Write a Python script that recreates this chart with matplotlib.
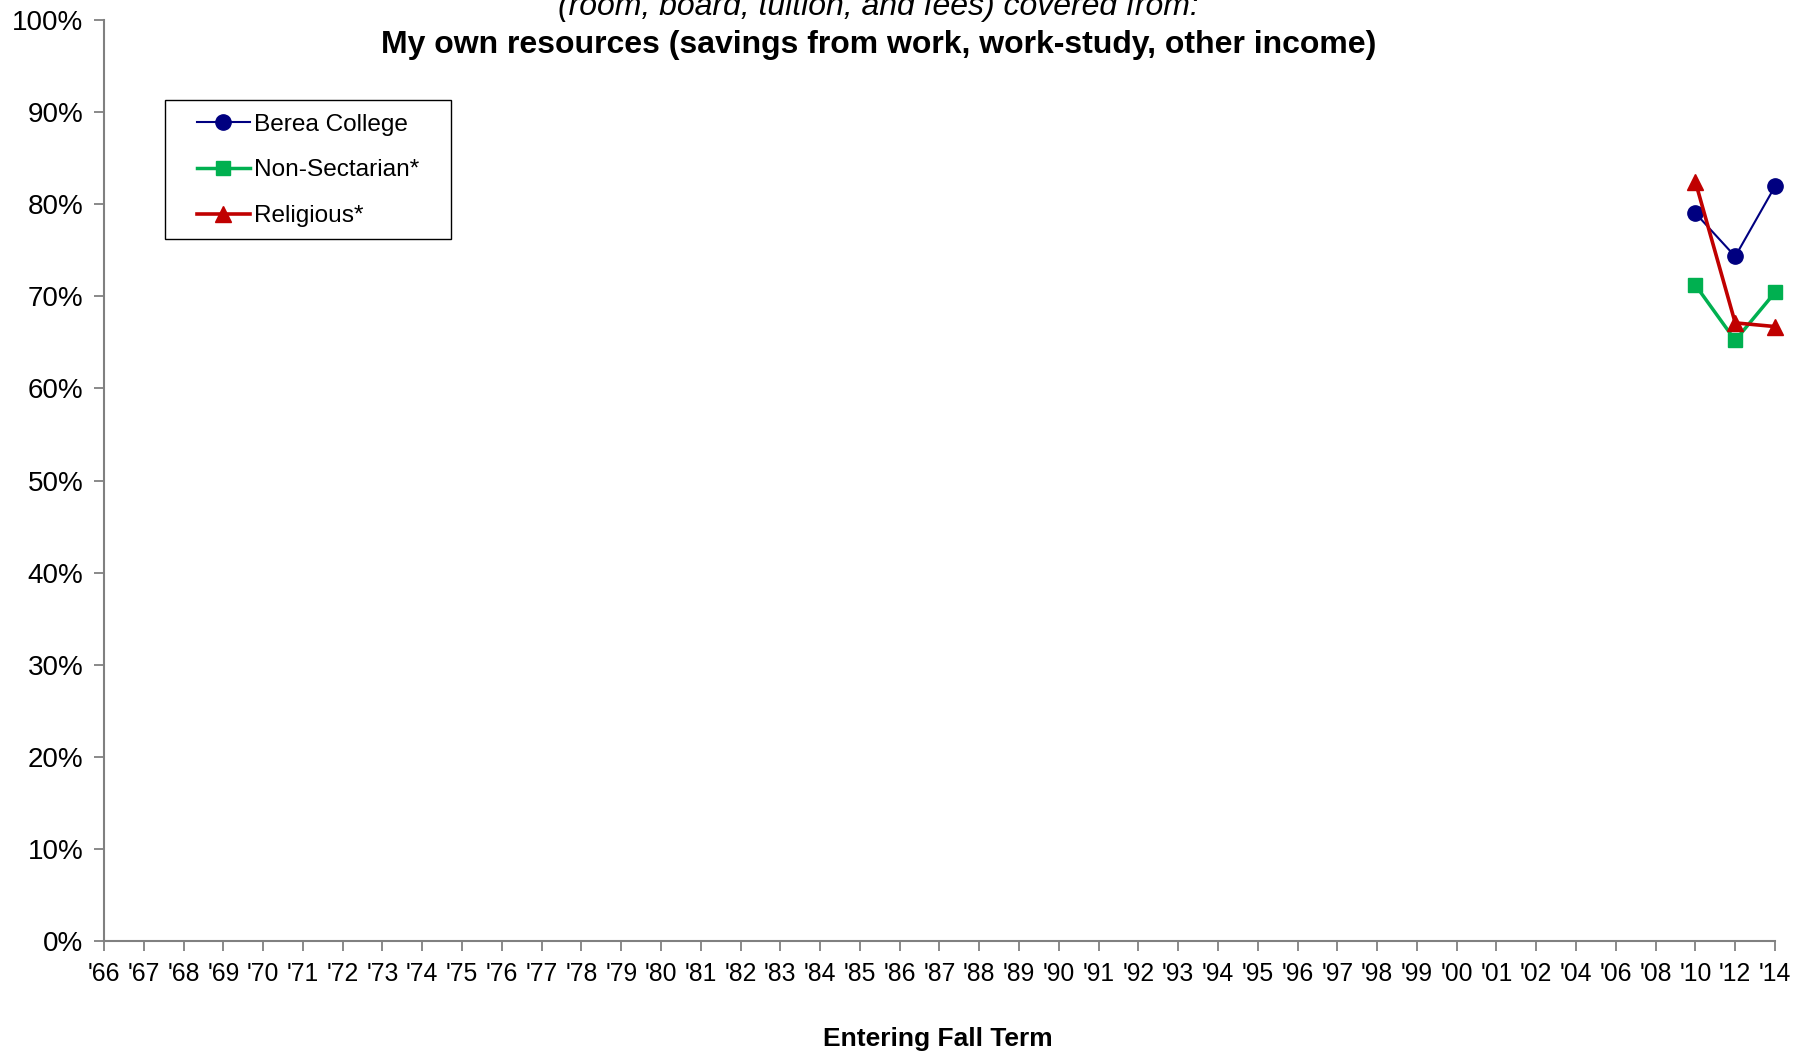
import matplotlib
matplotlib.use("Agg")
import matplotlib.pyplot as plt
from matplotlib.patches import Rectangle
import numpy as np

years = ["'66","'67","'68","'69","'70","'71","'72","'73","'74","'75","'76","'77","'78","'79",
         "'80","'81","'82","'83","'84","'85","'86","'87","'88","'89","'90","'91","'92","'93",
         "'94","'95","'96","'97","'98","'99","'00","'01","'02","'04","'06","'08","'10","'12","'14"]
data_years = ["'10", "'12", "'14"]
berea = [79.0, 74.3, 81.9]
nonsect = [71.2, 65.2, 70.4]
religious = [82.4, 67.1, 66.7]

plt.rcParams['font.family'] = ['Liberation Sans', 'DejaVu Sans']

fig = plt.figure(figsize=(17.96, 10.51), dpi=100)
ax = fig.add_axes([0.0579, 0.1042, 0.9304, 0.8772])

idx = [years.index(y) for y in data_years]
ax.plot(idx, berea, color='#000080', lw=1.5, marker='o', ms=11, clip_on=False, zorder=3, label='Berea College')
ax.plot(idx, nonsect, color='#00B050', lw=2.5, marker='s', ms=10.5, clip_on=False, zorder=3, label='Non-Sectarian*')
ax.plot(idx, religious, color='#C00000', lw=2.6, marker='^', ms=12, clip_on=False, zorder=4, label='Religious*')

ax.set_xlim(0, len(years) - 1)
ax.set_ylim(0, 100)
ax.set_xticks(range(len(years)))
ax.set_xticklabels(years)
ax.set_yticks(np.arange(0, 101, 10))
ax.set_yticklabels([f"{v}%" for v in range(0, 101, 10)])

for s in ['top', 'right']:
    ax.spines[s].set_visible(False)
for s in ['left', 'bottom']:
    ax.spines[s].set_color('#808080')
    ax.spines[s].set_linewidth(1.5)
ax.tick_params(axis='both', direction='out', length=7, width=1.3, color='#808080', labelcolor='black')
ax.tick_params(axis='x', pad=8, labelsize=17.8)
ax.tick_params(axis='y', pad=8, labelsize=20)

fig.text(0.489, 0.993, "(room, board, tuition, and fees) covered from:", ha='center', va='center',
         fontsize=23, style='italic')
fig.text(0.489, 0.957, "My own resources (savings from work, work-study, other income)", ha='center',
         va='center', fontsize=23, fontweight='bold')
fig.text(0.522, 0.011, "Entering Fall Term", ha='center', va='center', fontsize=19, fontweight='bold')

leg = ax.legend(loc='upper left', bbox_to_anchor=(0.1097, 0.8920), bbox_transform=fig.transFigure,
                fontsize=17.6, frameon=False, handlelength=2.15, handletextpad=0.2,
                labelspacing=0.97, borderpad=0, borderaxespad=0)
fig.patches.append(Rectangle((0.0919, 0.7722), 0.2511 - 0.0919, 0.9052 - 0.7722,
                             transform=fig.transFigure, fill=False, edgecolor='black', lw=1.0))

fig.savefig("out.png", dpi=100)
